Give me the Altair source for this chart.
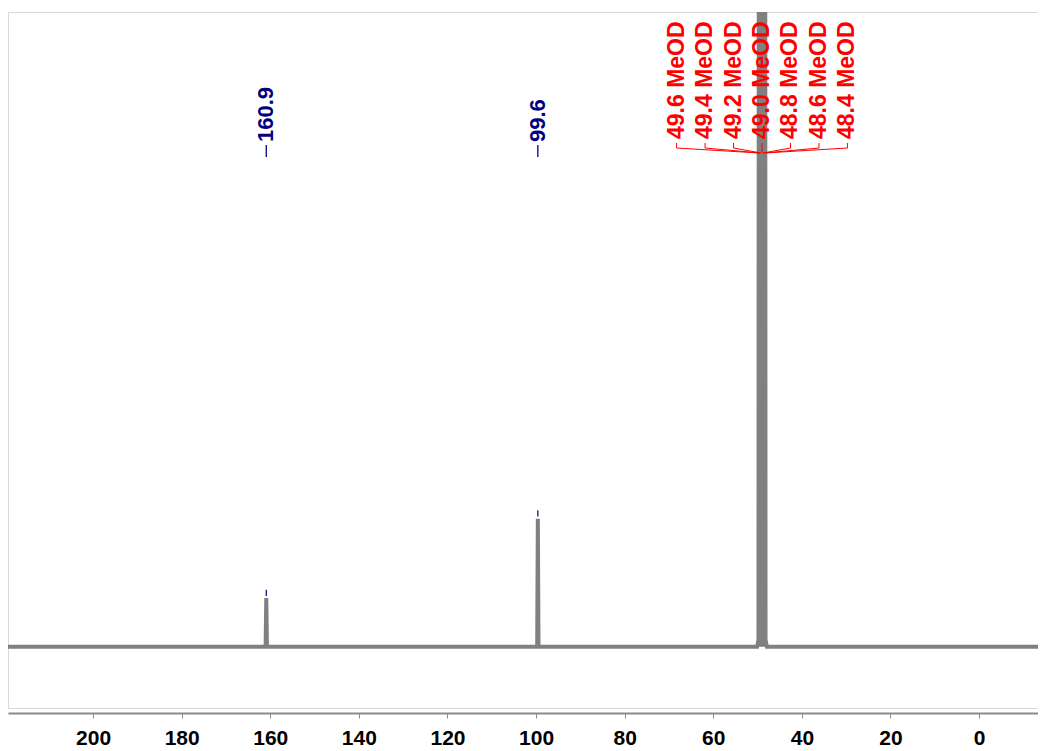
import altair as alt
import pandas as pd

# Spectrum trace (ppm, relative intensity; baseline = 0)
spec_ppm = [225, 161.05, 160.9, 160.75, 99.75, 99.6, 99.45,
            50.1, 49.8, 49.6, 49.5, 49.4, 49.3, 49.2, 49.1, 49.0,
            48.9, 48.8, 48.7, 48.6, 48.5, 48.4, 48.2, 47.9, -20]
spec_int = [0, 0, 7.0, 0, 0, 18.4, 0,
            0, 1.0, 300, 0, 300, 0, 300, 0, 300,
            0, 300, 0, 300, 0, 300, 1.0, 0, 0]

# Labelled compound peaks
peak_ppm = [160.9, 99.6]
peak_int = [7.0, 18.4]
peak_text = ["160.9", "99.6"]

# Solvent multiplet labels
solv_ppm = [49.6, 49.4, 49.2, 49.0, 48.8, 48.6, 48.4]
solv_text = ["49.6 MeOD", "49.4 MeOD", "49.2 MeOD", "49.0 MeOD",
             "48.8 MeOD", "48.6 MeOD", "48.4 MeOD"]

tick_vals = [200, 180, 160, 140, 120, 100, 80, 60, 40, 20, 0]

spec = pd.DataFrame({"ppm": spec_ppm, "I": spec_int, "k": list(range(len(spec_ppm)))})
peaks = pd.DataFrame({"ppm": peak_ppm, "I": peak_int, "label": peak_text})
n = len(solv_ppm)
solv = pd.DataFrame({
    "ppm": solv_ppm,
    "label": solv_text,
    "lppm": [49.0 + (3 - i) * 6.43 for i in range(n)],
})

FONT = "Liberation Sans"
xscale = alt.Scale(domain=[219.2, -13.3], nice=False, zero=False)
yscale = alt.Scale(domain=[-8.8, 91.2], nice=False, zero=False)

xaxis = alt.Axis(values=tick_vals, format="d", title=None, grid=False,
                 labelFont=FONT, labelFontSize=21, labelFontWeight="bold",
                 labelColor="black", domainColor="#8a8a8a", domainWidth=2,
                 tickColor="#8a8a8a", tickSize=5, tickWidth=1, offset=5,
                 labelPadding=9)

line = alt.Chart(spec).mark_line(color="#808080", strokeWidth=4, clip=True,
                                 interpolate="linear").encode(
    x=alt.X("ppm:Q", scale=xscale, axis=xaxis),
    y=alt.Y("I:Q", scale=yscale, axis=None),
    order="k:Q",
)

peak_marks = alt.Chart(peaks).transform_calculate(
    a="datum.I + 0.3", b="datum.I + 1.2"
).mark_rule(color="#000080", strokeWidth=1.2).encode(
    x=alt.X("ppm:Q", scale=xscale),
    y=alt.Y("a:Q", scale=yscale),
    y2="b:Q",
)

peak_dash = alt.Chart(peaks).mark_rule(color="#000080", strokeWidth=1.3).encode(
    x=alt.X("ppm:Q", scale=xscale),
    y=alt.value(133), y2=alt.value(145),
)

peak_lab = alt.Chart(peaks).mark_text(
    angle=270, align="left", baseline="middle", font=FONT, fontSize=22,
    fontWeight="bold", color="#000080"
).encode(
    x=alt.X("ppm:Q", scale=xscale),
    y=alt.value(130),
    text="label:N",
)

solv_lab = alt.Chart(solv).mark_text(
    angle=270, align="left", baseline="middle", font=FONT, fontSize=23,
    fontWeight="bold", color="#ff0000"
).encode(
    x=alt.X("lppm:Q", scale=xscale),
    y=alt.value(127),
    text="label:N",
)

solv_v = alt.Chart(solv).mark_rule(color="#ff0000", strokeWidth=1).encode(
    x=alt.X("lppm:Q", scale=xscale),
    y=alt.value(131), y2=alt.value(136),
)

solv_d = alt.Chart(solv).mark_rule(color="#ff0000", strokeWidth=1).encode(
    x=alt.X("lppm:Q", scale=xscale),
    x2="ppm:Q",
    y=alt.value(136), y2=alt.value(141),
)

chart = alt.layer(line, peak_marks, peak_dash, peak_lab, solv_v, solv_d, solv_lab).properties(
    width=1030, height=696,
    padding={"left": 0, "top": 4, "right": 0, "bottom": 0},
).configure_view(stroke="#d9d9d9", strokeWidth=1)

chart.save("out.html", embed_options={"renderer": "svg", "actions": False})
